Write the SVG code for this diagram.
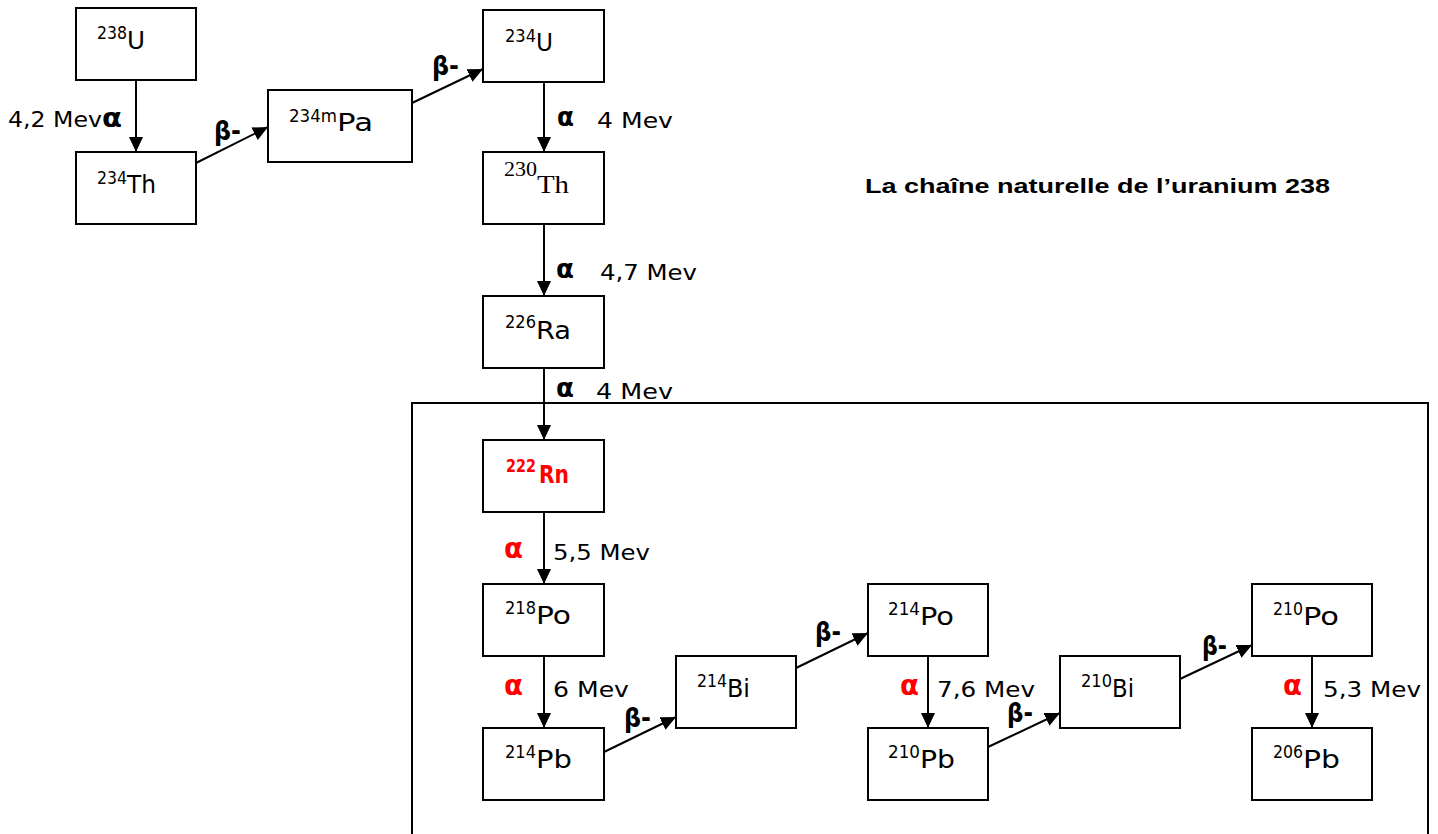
<svg xmlns="http://www.w3.org/2000/svg" width="1438" height="834" viewBox="0 0 1438 834">
<defs>
<marker id="ah" markerUnits="userSpaceOnUse" markerWidth="15" markerHeight="14" refX="15" refY="7" orient="auto">
<path d="M0,0 L15,7 L0,14 z" fill="#000"/>
</marker>
<style>
.box{fill:#fff;stroke:#000;stroke-width:2}
.frame{fill:none;stroke:#000;stroke-width:2}
.con{stroke:#000;stroke-width:2;fill:none;marker-end:url(#ah)}
.sup{font-family:"DejaVu Sans",sans-serif;font-size:17px;fill:#000}
.el{font-family:"DejaVu Sans",sans-serif;font-size:24px;fill:#000}
.ser{font-family:"Liberation Serif",serif;fill:#000}
.red{fill:#ff0000;font-weight:bold}
.lbl{font-family:"DejaVu Sans",sans-serif;font-size:21px;fill:#000}
.gr{font-family:"DejaVu Sans",sans-serif;font-size:26px;font-weight:bold;fill:#000}
.ra{fill:#ff0000;font-size:28px}
.title{font-family:"Liberation Sans",Arial,sans-serif;font-size:21px;font-weight:bold;fill:#000}
</style>
</defs>
<rect width="1438" height="834" fill="#fff"/>
<rect class="frame" x="412" y="403" width="1016" height="440"/>

<g id="connectors">
<line class="con" x1="136" y1="80" x2="136" y2="152"/>
<line class="con" x1="196" y1="163" x2="268" y2="127"/>
<line class="con" x1="412" y1="103" x2="483" y2="69"/>
<line class="con" x1="544" y1="82" x2="544" y2="152"/>
<line class="con" x1="544" y1="224" x2="544" y2="296"/>
<line class="con" x1="544" y1="368" x2="544" y2="440"/>
<line class="con" x1="544" y1="512" x2="544" y2="584"/>
<line class="con" x1="544" y1="656" x2="544" y2="728"/>
<line class="con" x1="604" y1="752" x2="676" y2="717"/>
<line class="con" x1="796" y1="668" x2="868" y2="633"/>
<line class="con" x1="928" y1="656" x2="928" y2="728"/>
<line class="con" x1="988" y1="747" x2="1060" y2="713"/>
<line class="con" x1="1180" y1="679" x2="1252" y2="645"/>
<line class="con" x1="1312" y1="656" x2="1312" y2="728"/>
</g>

<g id="labels">
<text class="lbl" x="8" y="127" textLength="94" lengthAdjust="spacingAndGlyphs">4,2 Mev</text>
<text class="gr" x="102" y="127" font-size="24" textLength="20" lengthAdjust="spacingAndGlyphs">α</text>
<text class="gr" x="214" y="140" textLength="27" lengthAdjust="spacingAndGlyphs">β-</text>
<text class="gr" x="432" y="75" textLength="27" lengthAdjust="spacingAndGlyphs">β-</text>
<text class="gr" x="557" y="126" font-size="24" textLength="17" lengthAdjust="spacingAndGlyphs">α</text>
<text class="lbl" x="597" y="128" textLength="76" lengthAdjust="spacingAndGlyphs">4 Mev</text>
<text class="gr" x="556" y="278" font-size="24" textLength="18" lengthAdjust="spacingAndGlyphs">α</text>
<text class="lbl" x="600" y="280" textLength="97" lengthAdjust="spacingAndGlyphs">4,7 Mev</text>
<text class="gr" x="556" y="397" font-size="24" textLength="18" lengthAdjust="spacingAndGlyphs">α</text>
<text class="lbl" x="596" y="399" textLength="77" lengthAdjust="spacingAndGlyphs">4 Mev</text>
<text class="gr ra" x="504" y="558" textLength="19" lengthAdjust="spacingAndGlyphs">α</text>
<text class="lbl" x="553" y="560" textLength="97" lengthAdjust="spacingAndGlyphs">5,5 Mev</text>
<text class="gr ra" x="504" y="695" textLength="19" lengthAdjust="spacingAndGlyphs">α</text>
<text class="lbl" x="553" y="697" textLength="76" lengthAdjust="spacingAndGlyphs">6 Mev</text>
<text class="gr" x="624" y="727" textLength="27" lengthAdjust="spacingAndGlyphs">β-</text>
<text class="gr" x="815" y="641" textLength="26" lengthAdjust="spacingAndGlyphs">β-</text>
<text class="gr ra" x="900" y="695" textLength="19" lengthAdjust="spacingAndGlyphs">α</text>
<text class="lbl" x="937" y="697" textLength="98" lengthAdjust="spacingAndGlyphs">7,6 Mev</text>
<text class="gr" x="1007" y="722" textLength="26" lengthAdjust="spacingAndGlyphs">β-</text>
<text class="gr" x="1202" y="655" textLength="25" lengthAdjust="spacingAndGlyphs">β-</text>
<text class="gr ra" x="1283" y="695" textLength="19" lengthAdjust="spacingAndGlyphs">α</text>
<text class="lbl" x="1323" y="697" textLength="98" lengthAdjust="spacingAndGlyphs">5,3 Mev</text>
<text class="title" x="865" y="193" textLength="465" lengthAdjust="spacingAndGlyphs">La chaîne naturelle de l’uranium 238</text>
</g>

<g id="n-238U"><rect class="box" x="76" y="8" width="120" height="72"/>
<text class="sup" x="97" y="39" textLength="30" lengthAdjust="spacingAndGlyphs">238</text>
<text class="el" x="127" y="49" textLength="18" lengthAdjust="spacingAndGlyphs">U</text></g>

<g id="n-234Th"><rect class="box" x="76" y="152" width="120" height="72"/>
<text class="sup" x="97" y="184" textLength="30" lengthAdjust="spacingAndGlyphs">234</text>
<text class="el" x="127" y="193" textLength="29" lengthAdjust="spacingAndGlyphs">Th</text></g>

<g id="n-234mPa"><rect class="box" x="268" y="90" width="144" height="72"/>
<text class="sup" x="289" y="122" textLength="48" lengthAdjust="spacingAndGlyphs">234m</text>
<text class="el" x="337" y="131" textLength="36" lengthAdjust="spacingAndGlyphs">Pa</text></g>

<g id="n-234U"><rect class="box" x="483" y="10" width="121" height="72"/>
<text class="sup" x="505" y="42" textLength="31" lengthAdjust="spacingAndGlyphs">234</text>
<text class="el" x="536" y="51" textLength="17" lengthAdjust="spacingAndGlyphs">U</text></g>

<g id="n-230Th"><rect class="box" x="483" y="152" width="121" height="72"/>
<text class="ser" x="504" y="176" font-size="20" textLength="33" lengthAdjust="spacingAndGlyphs">230</text>
<text class="ser" x="537" y="193" font-size="25" textLength="32" lengthAdjust="spacingAndGlyphs">Th</text></g>

<g id="n-226Ra"><rect class="box" x="483" y="296" width="121" height="72"/>
<text class="sup" x="505" y="328" textLength="31" lengthAdjust="spacingAndGlyphs">226</text>
<text class="el" x="536" y="339" textLength="35" lengthAdjust="spacingAndGlyphs">Ra</text></g>

<g id="n-222Rn"><rect class="box" x="483" y="440" width="121" height="72"/>
<text class="sup red" x="506" y="472" textLength="30" lengthAdjust="spacingAndGlyphs">222</text>
<text class="el red" x="539" y="483" textLength="30" lengthAdjust="spacingAndGlyphs">Rn</text></g>

<g id="n-218Po"><rect class="box" x="483" y="584" width="121" height="72"/>
<text class="sup" x="505" y="614" textLength="31" lengthAdjust="spacingAndGlyphs">218</text>
<text class="el" x="536" y="624" textLength="35" lengthAdjust="spacingAndGlyphs">Po</text></g>

<g id="n-214Pb"><rect class="box" x="483" y="728" width="121" height="72"/>
<text class="sup" x="505" y="758" textLength="31" lengthAdjust="spacingAndGlyphs">214</text>
<text class="el" x="536" y="768" textLength="36" lengthAdjust="spacingAndGlyphs">Pb</text></g>

<g id="n-214Bi"><rect class="box" x="676" y="656" width="120" height="72"/>
<text class="sup" x="697" y="687" textLength="30" lengthAdjust="spacingAndGlyphs">214</text>
<text class="el" x="727" y="697" textLength="23" lengthAdjust="spacingAndGlyphs">Bi</text></g>

<g id="n-214Po"><rect class="box" x="868" y="584" width="120" height="72"/>
<text class="sup" x="888" y="615" textLength="32" lengthAdjust="spacingAndGlyphs">214</text>
<text class="el" x="920" y="625" textLength="34" lengthAdjust="spacingAndGlyphs">Po</text></g>

<g id="n-210Pb"><rect class="box" x="868" y="728" width="120" height="72"/>
<text class="sup" x="888" y="758" textLength="32" lengthAdjust="spacingAndGlyphs">210</text>
<text class="el" x="920" y="768" textLength="35" lengthAdjust="spacingAndGlyphs">Pb</text></g>

<g id="n-210Bi"><rect class="box" x="1060" y="656" width="120" height="72"/>
<text class="sup" x="1081" y="687" textLength="31" lengthAdjust="spacingAndGlyphs">210</text>
<text class="el" x="1112" y="697" textLength="22" lengthAdjust="spacingAndGlyphs">Bi</text></g>

<g id="n-210Po"><rect class="box" x="1252" y="584" width="120" height="72"/>
<text class="sup" x="1273" y="615" textLength="30" lengthAdjust="spacingAndGlyphs">210</text>
<text class="el" x="1303" y="625" textLength="36" lengthAdjust="spacingAndGlyphs">Po</text></g>

<g id="n-206Pb"><rect class="box" x="1252" y="728" width="120" height="72"/>
<text class="sup" x="1273" y="758" textLength="30" lengthAdjust="spacingAndGlyphs">206</text>
<text class="el" x="1303" y="768" textLength="37" lengthAdjust="spacingAndGlyphs">Pb</text></g>
</svg>
